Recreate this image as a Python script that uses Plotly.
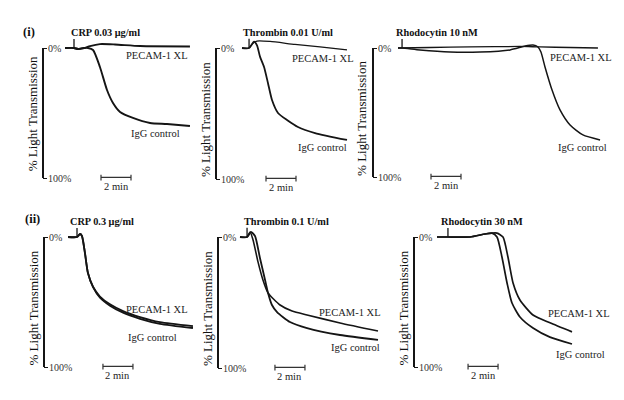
import plotly.graph_objects as go

# aggregation traces, time in min from start of trace, y in % light transmission (0 top)
# (i) CRP 0.03 ug/ml
p1_t_igg = [0, 0.6, 0.87, 1.27, 1.53, 1.87, 2.33, 2.8, 3.2, 3.67, 4.53, 5.67, 6.8, 8.33]
p1_igg = [0, 0, 0.8, 0, 0, 1.5, 14.6, 32.3, 42.3, 49.2, 53.8, 57.7, 58.5, 60]
p1_t_pec = [0, 0.6, 0.87, 1.27, 1.67, 2.33, 3.33, 5.0, 8.33]
p1_pec = [0, 0, 0.8, 0, -1.5, -3, -2.7, -1.5, -1.2]

# (i) thrombin 0.01 U/ml
p2_t_igg = [0, 0.47, 0.8, 1.0, 1.2, 1.47, 1.73, 2.0, 2.4, 3.0, 3.73, 4.87, 7.0]
p2_igg = [0, 0, -4.8, -2, 6.6, 14.5, 26.7, 39.7, 49.6, 55, 60.3, 64.9, 70.2]
p2_t_pec = [0, 0.47, 0.67, 1.0, 1.87, 3.53, 5.2, 7.0]
p2_pec = [0, 0, -3, -5.3, -5, -2.7, -0.8, 1.5]

# (i) rhodocytin 10 nM
p3_t_igg = [0, 0.27, 1.47, 3.47, 5.47, 7.47, 8.47, 9.0, 9.33, 9.53, 9.8, 10.27, 10.8, 11.47, 12.33, 13.47]
p3_igg = [0, 0, 1.5, 3.1, 3.1, 1.5, -1.5, -2.3, -0.8, 3.1, 14.7, 32.6, 48, 59.7, 67.4, 71.3]
p3_t_pec = [0, 2.13, 4.8, 8.13, 9.47, 11.47, 13.33]
p3_pec = [0, -0.4, -0.8, -1.2, -0.8, -0.4, 0]

# (ii) CRP 0.3 ug/ml
p4_t = [0, 0.6, 0.8, 0.93, 1.13, 1.33, 1.67, 2.13, 2.8, 3.67, 4.8, 6.13, 8.33]
p4_igg = [0, 0, -2.3, -0.8, 12.3, 27.7, 38.5, 46.6, 52.8, 58.2, 62.9, 66.8, 70.0]
p4_pec = [0, 0, -2.3, -0.8, 12.3, 27.7, 38.3, 45.8, 51.8, 57.0, 61.6, 65.5, 68.6]

# (ii) thrombin 0.1 U/ml
p5_t_pec = [0, 0.47, 0.67, 0.87, 1.2, 1.53, 1.87, 2.67, 3.47, 4.47, 6.67, 9.2]
p5_pec = [0, 0, -3.8, 2.3, 19, 32.8, 42.7, 51.9, 56.5, 59.5, 65.6, 71.8]
p5_t_igg = [0, 0.47, 0.73, 1.0, 1.33, 1.67, 1.87, 2.13, 2.47, 3.33, 4.47, 6.67, 9.2]
p5_igg = [0, 0, -3.8, -0.8, 16, 32.8, 42.7, 51.9, 57.3, 64.9, 69.5, 74.8, 78.6]

# (ii) rhodocytin 30 nM
p6_t_igg = [0, 0.73, 2.2, 3.2, 3.67, 4.0, 4.33, 4.67, 5.0, 5.53, 6.4, 7.53, 9.0]
p6_igg = [0, 0, 0, -2.3, -3, 0, 15.4, 35.4, 50.8, 61.5, 70, 77, 82.3]
p6_t_pec = [0, 0.73, 2.2, 3.2, 3.67, 4.0, 4.4, 4.73, 5.07, 5.53, 6.4, 7.53, 9.0]
p6_pec = [0, 0, 0, -2.3, -3, -3, 0, 15.4, 35.4, 48.5, 60, 66, 73]

titles = ["CRP 0.03 \u03bcg/ml", "Thrombin 0.01 U/ml", "Rhodocytin 10 nM",
          "CRP 0.3 \u03bcg/ml", "Thrombin 0.1 U/ml", "Rhodocytin 30 nM"]
inj_time = [0.6, 0.47, 0.27, 0.6, 0.47, 0.73]
bar_start = [2.4, 1.6, 2.2, 2.33, 2.33, 2.07]

traces = [
    (p1_t_pec, p1_pec, p1_t_igg, p1_igg),
    (p2_t_pec, p2_pec, p2_t_igg, p2_igg),
    (p3_t_pec, p3_pec, p3_t_igg, p3_igg),
    (p4_t, p4_pec, p4_t, p4_igg),
    (p5_t_pec, p5_pec, p5_t_igg, p5_igg),
    (p6_t_pec, p6_pec, p6_t_igg, p6_igg),
]

# panel placement in window pixels: axis x, trace start x, right edge, 0% y, 100% y
geom = [
    (43, 65, 196, 48, 178),
    (216, 242, 352, 48, 179),
    (373, 398, 613, 48, 177),
    (44, 68, 197, 237, 367),
    (218, 240, 390, 237, 368),
    (414, 437, 613, 237, 367),
]
# label positions (t, %): PECAM, IgG, title x, y-title %
lab = [
    ((6.13, 5.4), (6.03, 66), 2.67, 51),
    ((5.37, 8.4), (5.37, 76.3), 3.07, 55),
    ((12.2, 7), (12.33, 77.5), 2.6, 55),
    ((5.9, 56), (5.6, 77), 2.27, 55),
    ((7.33, 58), (7.67, 84), 3.07, 55),
    ((9.47, 58.5), (9.57, 90), 3.0, 55),
]
lw = [(1.9, 1.9), (1.2, 1.8), (1.3, 1.5), (1.8, 1.8), (1.6, 1.8), (1.7, 1.7)]

# page body has an 8px margin, so the figure sits at (8, 8)
OX, OY = 8, 8
W, H = 608, 384
PX_MIN = 15.0
YTOP, YBOT = -16, 106
FONT = "Liberation Serif"
INK = "#151515"


def px_x(x):
    return (x - OX) / W


def px_y(y):
    return 1 - (y - OY) / H


fig = go.Figure()
ann = []
shapes = []
lay = {}

for i in range(6):
    n = "" if i == 0 else str(i + 1)
    ax, x0, right, y0, y100 = geom[i]
    k = (y100 - y0) / 100.0
    top = y0 + YTOP * k
    bot = y0 + YBOT * k
    lay["xaxis" + n] = dict(domain=[px_x(ax), px_x(right)],
                            range=[(ax - x0) / PX_MIN, (right - x0) / PX_MIN],
                            visible=False, anchor="y" + n)
    lay["yaxis" + n] = dict(domain=[px_y(bot), px_y(top)],
                            range=[YBOT, YTOP], anchor="x" + n,
                            showgrid=False, zeroline=False, showline=False,
                            tickvals=[0, 100], ticktext=["0%", "100%"],
                            ticks="inside", ticklen=4, tickwidth=1.3, tickcolor=INK,
                            ticklabelposition="inside",
                            tickfont=dict(family=FONT, size=10, color="#333"))
    xr, yr = "x" + n, "y" + n

    tp, yp, ti, yi = traces[i]
    fig.add_trace(go.Scatter(x=tp, y=yp, mode="lines", xaxis=xr, yaxis=yr,
                             line=dict(color=INK, width=lw[i][0], shape="spline", smoothing=0.6),
                             showlegend=False, hoverinfo="skip"))
    fig.add_trace(go.Scatter(x=ti, y=yi, mode="lines", xaxis=xr, yaxis=yr,
                             line=dict(color=INK, width=lw[i][1], shape="spline", smoothing=0.6),
                             showlegend=False, hoverinfo="skip"))

    # agonist injection mark
    fig.add_trace(go.Scatter(x=[inj_time[i], inj_time[i]], y=[0, -7], mode="lines",
                             xaxis=xr, yaxis=yr, line=dict(color=INK, width=1.3),
                             showlegend=False, hoverinfo="skip"))

    # 2 min scale bar
    s = bar_start[i]
    fig.add_trace(go.Scatter(x=[s, s, None, s, s + 2, None, s + 2, s + 2],
                             y=[97.5, 102, None, 99.5, 99.5, None, 97.5, 102],
                             mode="lines", xaxis=xr, yaxis=yr,
                             line=dict(color="#333", width=1.2),
                             showlegend=False, hoverinfo="skip"))

    # vertical bracket from 0% to 100%
    shapes.append(dict(type="line", xref=xr + " domain", yref=yr, x0=0, x1=0, y0=0, y1=100,
                       line=dict(color=INK, width=2)))

    (pt, py), (it, iy), tx, ytc = lab[i]
    f = dict(family=FONT, size=10.5, color="#222")
    ann.append(dict(x=pt, y=py, xref=xr, yref=yr, text="PECAM-1 XL", showarrow=False,
                    xanchor="center", yanchor="middle", font=f))
    ann.append(dict(x=it, y=iy, xref=xr, yref=yr, text="IgG control", showarrow=False,
                    xanchor="center", yanchor="middle", font=f))
    ann.append(dict(x=s + 1, y=101, xref=xr, yref=yr, text="2 min", showarrow=False,
                    xanchor="center", yanchor="top", font=f))
    ann.append(dict(x=tx, y=px_y(y0 - 16), xref=xr, yref="paper", text="<b>" + titles[i] + "</b>",
                    showarrow=False, xanchor="center", yanchor="middle",
                    font=dict(family=FONT, size=10.3, color="#111")))
    ann.append(dict(x=0, y=ytc, xref=xr + " domain", yref=yr, xshift=-11,
                    text="% Light Transmission", textangle=-90, showarrow=False,
                    xanchor="center", yanchor="middle",
                    font=dict(family=FONT, size=13, color="#111")))

ann.append(dict(x=px_x(29), y=px_y(32), xref="paper", yref="paper", text="<b>(i)</b>",
                showarrow=False, xanchor="center", yanchor="middle",
                font=dict(family=FONT, size=12.5, color="#111")))
ann.append(dict(x=px_x(32), y=px_y(219), xref="paper", yref="paper", text="<b>(ii)</b>",
                showarrow=False, xanchor="center", yanchor="middle",
                font=dict(family=FONT, size=12.5, color="#111")))

fig.update_layout(width=W, height=H, margin=dict(l=0, r=0, t=0, b=0),
                  paper_bgcolor="white", plot_bgcolor="white",
                  annotations=ann, shapes=shapes, **lay)

fig.write_html("out.html")
